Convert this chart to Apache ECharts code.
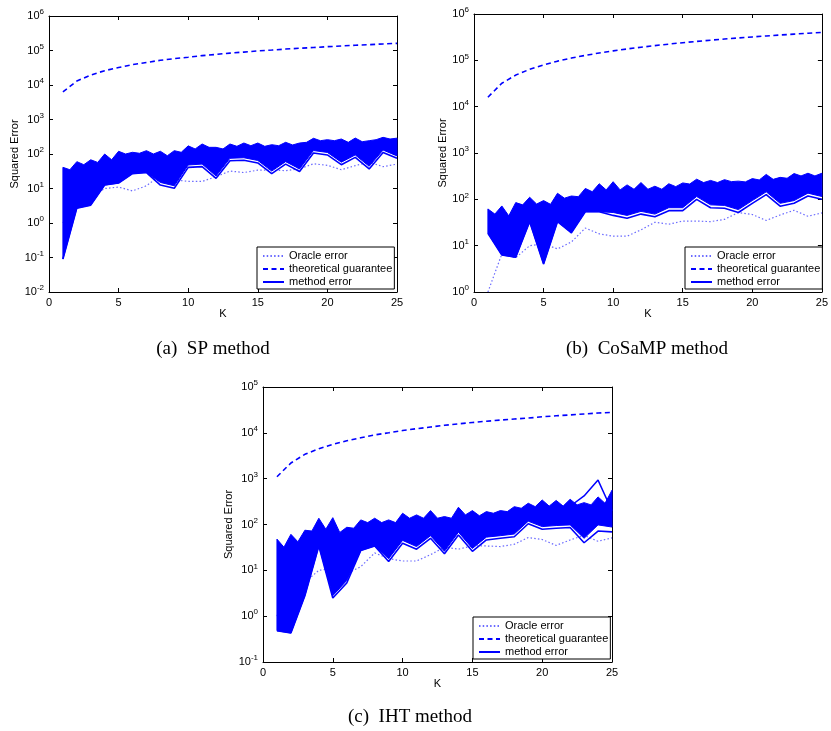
<!DOCTYPE html>
<html><head><meta charset="utf-8">
<script src="https://cdn.jsdelivr.net/npm/echarts@6/dist/echarts.min.js"></script>
<style>html,body{margin:0;padding:0;background:#fff}#c{width:831px;height:731px}</style>
</head><body><div id="c"></div>
<script>
// ---------- data ----------
const K = [1,2,3,4,5,6,7,8,9,10,11,12,13,14,15,16,17,18,19,20,21,22,23,24,25];
const Khalf = [1,1.5,2,2.5,3,3.5,4,4.5,5,5.5,6,6.5,7,7.5,8,8.5,9,9.5,10,10.5,11,11.5,12,12.5,13,13.5,14,14.5,15,15.5,16,16.5,17,17.5,18,18.5,19,19.5,20,20.5,21,21.5,22,22.5,23,23.5,24,24.5,25];
const xTicks = [0,5,10,15,20,25];

const oracle = [1.0,6.6,5.5,10,11,8.5,12,24,18,16,16,22,32,29,34,34,33,37,52,47,35,46,58,43,51];

// (a) SP
const guaranteeA = [6.3e3,1.3e4,1.95e4,2.6e4,3.2e4,3.9e4,4.5e4,5.2e4,5.8e4,6.4e4,7.1e4,7.7e4,8.4e4,9.0e4,9.7e4,1.03e5,1.1e5,1.16e5,1.22e5,1.29e5,1.35e5,1.42e5,1.48e5,1.55e5,1.61e5];
const upperA = [41,35,60,49,68,57,100,68,120,100,112,105,125,100,120,89,125,112,172,140,195,156,156,140,195,167,208,174,208,167,186,174,218,183,208,218,285,243,260,243,272,218,290,227,243,260,304,272,288];
const bandLowA = [0.09,2.7,3.3,12.6,14.4,27,29,15,12,48,51,23,75,78,65,32,60,37,126,111,58,94,44,130,88];
const lowestA = [0.09,2.7,3.3,12.6,14.4,27,29,12.6,10.2,41,43,19.7,64,66,55,27,51,31,107,94,49,80,37,110,75];

// (b) CoSaMP
const guaranteeB = [1.6e4,3.2e4,4.8e4,6.4e4,8.0e4,9.6e4,1.12e5,1.28e5,1.44e5,1.6e5,1.76e5,1.92e5,2.08e5,2.24e5,2.4e5,2.56e5,2.72e5,2.88e5,3.04e5,3.2e5,3.36e5,3.52e5,3.68e5,3.84e5,4.0e5];
const upperB = [62,48,72,44,85,76,111,79,94,78,135,106,118,114,172,146,217,160,240,160,205,165,230,165,192,165,217,188,226,214,272,230,256,230,266,241,247,238,280,262,345,270,298,285,360,320,366,320,366];
const bandLowB = [18.5,6.3,5.6,33,4.0,33,19,54,54,52,45,55,48,66,66,115,76,74,60,94,145,82,94,136,115];
const lowestB = [18.5,6.3,5.6,33,4.0,33,19,54,54,45,39,48,42,57,57,100,66,64,52,82,126,71,82,118,100];

// (c) IHT
const guaranteeC = [1.1e3,2.2e3,3.4e3,4.5e3,5.6e3,6.7e3,7.8e3,9.0e3,1.0e4,1.12e4,1.23e4,1.34e4,1.46e4,1.57e4,1.68e4,1.79e4,1.9e4,2.0e4,2.1e4,2.24e4,2.35e4,2.46e4,2.58e4,2.7e4,2.8e4];
const upperC = [48,32,61,42,75,72,137,79,141,67,87,83,126,110,137,110,126,110,176,137,162,137,201,137,149,137,238,162,201,155,191,176,201,191,245,226,291,245,343,252,335,252,355,268,300,268,400,290,560];
const bandLowC = [0.48,0.43,2.8,34,2.8,6,27,34,18,45,33,57,26,68,30,53,57,62,118,90,95,98,50,98,88];
const lowestC = [0.48,0.43,2.8,34,2.5,5.3,27,34,15.6,39,29,50,23,59,26,46,50,54,104,79,83,86,40,72,69];
const outlierK = [22,23,24,25];
const outlierC = [250,420,930,200];

const legendNames = ['Oracle error','theoretical guarantee','method error'];
const captions = ['(a)  SP method','(b)  CoSaMP method','(c)  IHT method'];
const yLabel = 'Squared Error';
const xLabel = 'K';

// ---------- layout / style ----------
const BLUE = '#0000ff';
const SANS = '"Liberation Sans", Arial, Helvetica, sans-serif';
const SERIF = '"Liberation Serif", "Times New Roman", serif';
const panels = [
  {grid:{left:49, top:16, width:348, height:276}, ymin:1e-2, ymax:1e6, nameGap:27, leg:[257,247],
   guarantee:guaranteeA, upper:upperA, bandLow:bandLowA, lowest:lowestA, cap:[213,349]},
  {grid:{left:474, top:14, width:352, height:278}, ymin:1e0, ymax:1e6, nameGap:21, leg:[685,247],
   guarantee:guaranteeB, upper:upperB, bandLow:bandLowB, lowest:lowestB, cap:[647,349]},
  {grid:{left:263, top:387, width:349, height:275}, ymin:1e-1, ymax:1e5, nameGap:27, leg:[473,617],
   guarantee:guaranteeC, upper:upperC, bandLow:bandLowC, lowest:lowestC, cap:[410,717]}
];

function pairs(xs, ys){ return xs.map((x,i)=>[x, ys[i]]); }

const option = {
  backgroundColor:'#fff', animation:false,
  grid:[], xAxis:[], yAxis:[], series:[], legend:[], graphic:[]
};

const tickStyle = {show:true, inside:true, length:4, lineStyle:{color:'#000', width:1}};
const lineAx = {show:true, onZero:false, lineStyle:{color:'#000', width:1}};

panels.forEach((p, i) => {
  option.grid.push(Object.assign({containLabel:false}, p.grid));
  const xb = {type:'value', gridIndex:i, min:0, max:25, interval:5, position:'bottom',
    axisLine:lineAx, axisTick:tickStyle, splitLine:{show:false},
    axisLabel:{color:'#000', fontSize:11, fontFamily:SANS, margin:5},
    name:xLabel, nameLocation:'middle', nameGap:16,
    nameTextStyle:{color:'#000', fontSize:11, fontFamily:SANS}};
  const xt = {type:'value', gridIndex:i, min:0, max:25, interval:5, position:'top',
    axisLine:lineAx, axisTick:tickStyle, splitLine:{show:false}, axisLabel:{show:false}};
  const yl = {type:'log', logBase:10, gridIndex:i, min:p.ymin, max:p.ymax, interval:1, position:'left',
    axisLine:lineAx, axisTick:tickStyle, splitLine:{show:false},
    axisLabel:{color:'#000', fontFamily:SANS, margin:5,
      formatter:v => '{b|10}{s|' + Math.round(Math.log10(v)) + '}',
      rich:{b:{fontSize:11, fontFamily:SANS, color:'#000'},
            s:{fontSize:8, fontFamily:SANS, color:'#000', padding:[0,0,8,0]}}},
    name:yLabel, nameLocation:'middle', nameGap:p.nameGap, nameRotate:90,
    nameTextStyle:{color:'#000', fontSize:11, fontFamily:SANS}};
  const yr = {type:'log', logBase:10, gridIndex:i, min:p.ymin, max:p.ymax, interval:1, position:'right',
    axisLine:lineAx, axisTick:tickStyle, splitLine:{show:false}, axisLabel:{show:false}};
  option.xAxis.push(xb, xt);
  option.yAxis.push(yl, yr);
  const ax = {xAxisIndex:2*i, yAxisIndex:2*i};

  option.series.push(Object.assign({
    type:'line', name:'Oracle error', data:pairs(K, oracle), symbol:'none', z:2,
    itemStyle:{color:'#6a6aff'},
    lineStyle:{color:'#6a6aff', width:1.2, type:[1.5,2.2]}}, ax));
  option.series.push(Object.assign({
    type:'line', name:'theoretical guarantee', data:pairs(K, p.guarantee), symbol:'none', z:2,
    itemStyle:{color:BLUE},
    lineStyle:{color:BLUE, width:1.6, type:[5,3.5]}}, ax));
  const up = p.upper, lo = p.bandLow;
  option.series.push(Object.assign({
    type:'custom', name:'band', silent:true, z:3, data:[[K[0], lo[0]]],
    renderItem:function(params, api){
      const pts = [];
      for (let j = 0; j < Khalf.length; j++) pts.push(api.coord([Khalf[j], up[j]]));
      for (let j = K.length - 1; j >= 0; j--) pts.push(api.coord([K[j], lo[j]]));
      return {type:'polygon', shape:{points:pts}, style:{fill:BLUE, stroke:BLUE, lineWidth:1}};
    }}, ax));
  option.series.push(Object.assign({
    type:'line', name:'method error', data:pairs(K, p.lowest), symbol:'none', z:4,
    itemStyle:{color:BLUE},
    lineStyle:{color:BLUE, width:1.6}}, ax));
  if (i === 2) {
    option.series.push(Object.assign({
      type:'line', name:'method outlier', data:pairs(outlierK, outlierC), symbol:'none', z:4,
      itemStyle:{color:BLUE},
      lineStyle:{color:BLUE, width:1.5}}, ax));
  }

  option.legend.push({
    data:legendNames, orient:'vertical', left:p.leg[0], top:p.leg[1],
    backgroundColor:'#fff', borderColor:'#000', borderWidth:1, borderRadius:0,
    padding:[3,2,1,5], itemWidth:21, itemHeight:12, itemGap:1, selectedMode:false,
    itemStyle:{opacity:0, borderWidth:0},
    textStyle:{color:'#000', fontSize:11, fontFamily:SANS, lineHeight:12}
  });
});

option.graphic = panels.map((p, i) => ({type:'text', x:p.cap[0], y:p.cap[1], silent:true,
  style:{text:captions[i], font:'19px ' + SERIF, fill:'#000', align:'center', verticalAlign:'middle'}}));

const chart = echarts.init(document.getElementById('c'), null, {renderer:'canvas'});
chart.setOption(option);
</script>
</body></html>
